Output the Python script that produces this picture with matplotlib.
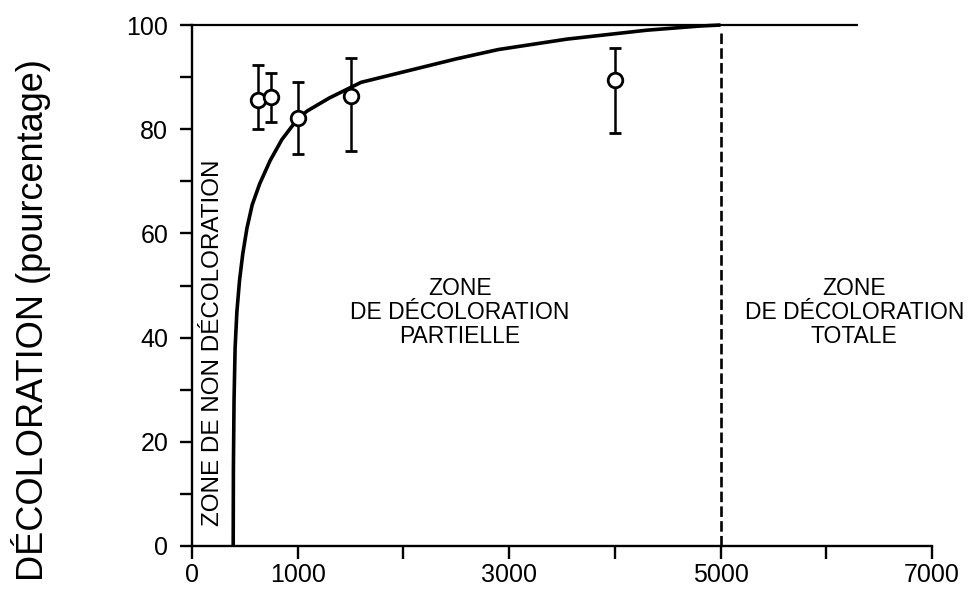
import matplotlib
matplotlib.use("Agg")
import matplotlib.pyplot as plt
from matplotlib.ticker import MultipleLocator, FixedLocator

plt.rcParams['font.family'] = ['Liberation Sans', 'DejaVu Sans']

# --- data ---
dose = [620, 750, 1000, 1500, 4000]
decol = [85.6, 86.1, 82.1, 86.3, 89.5]
err_low = [80.1, 81.3, 75.3, 75.9, 79.2]
err_high = [92.3, 90.7, 89.1, 93.7, 95.5]

curve_x = [390, 392, 398, 408, 425, 450, 480, 520, 570, 640, 740, 850, 1000,
           1090, 1300, 1450, 1600, 2000, 2500, 2900, 3550, 4300, 4800, 5000]
curve_y = [0, 15, 28, 38, 45, 51, 56, 61, 65.5, 69.5, 74, 78, 82,
           83.5, 86, 87.5, 89, 91, 93.5, 95.3, 97.3, 99, 99.8, 100]

ref_level = 100
ref_x_end = 6300
limit_x = 5000

x_ticks = [0, 1000, 2000, 3000, 4000, 5000, 6000, 7000]
x_labels = ['0', '1000', '', '3000', '', '5000', '', '7000']
y_ticks = [0, 20, 40, 60, 80, 100]

fig = plt.figure(figsize=(9.72, 5.90), dpi=100)
ax = fig.add_axes([0.1975, 0.0746, 0.7613, 0.883])

ax.hlines(ref_level, 0, ref_x_end, color='black', lw=1.6, clip_on=False)
ax.plot(curve_x, curve_y, color='black', lw=2.6, solid_capstyle='butt',
        clip_on=False, zorder=3)
ax.vlines(limit_x, 0, 99.2, color='black', lw=1.9, linestyles=(0, (4, 1.6)))

yerr = [[d - lo for d, lo in zip(decol, err_low)],
        [hi - d for d, hi in zip(decol, err_high)]]
ax.errorbar(dose, decol, yerr=yerr, fmt='o', color='black', ms=10.5,
            mfc='white', mec='black', mew=2, elinewidth=1.8,
            capsize=4.5, capthick=1.8, zorder=5, clip_on=False)

ax.set_xlim(0, 7000)
ax.set_ylim(0, 100)
ax.xaxis.set_major_locator(FixedLocator(x_ticks))
ax.set_xticklabels(x_labels)
ax.yaxis.set_major_locator(FixedLocator(y_ticks))
ax.yaxis.set_minor_locator(MultipleLocator(10))

for s in ['top', 'right']:
    ax.spines[s].set_visible(False)
for s in ['left', 'bottom']:
    ax.spines[s].set_linewidth(1.7)

ax.tick_params(which='both', direction='out', length=9, width=1.7,
               labelsize=18)
ax.tick_params(axis='x', pad=3)
ax.tick_params(axis='y', pad=8)

ax.text(195, 39, 'ZONE DE NON DÉCOLORATION', rotation=90, ha='center',
        va='center', fontsize=17.5)
ax.text(2535, 44.8, 'ZONE\nDE DÉCOLORATION\nPARTIELLE', ha='center',
        va='center', fontsize=16.5, linespacing=1.05)
ax.text(6265, 44.8, 'ZONE\nDE DÉCOLORATION\nTOTALE', ha='center',
        va='center', fontsize=16.5, linespacing=1.05, clip_on=False)

fig.text(31 / 972, 1 - 320 / 590, 'DÉCOLORATION (pourcentage)', rotation=90,
         ha='center', va='center', fontsize=26)

fig.savefig('out.png', dpi=100)
